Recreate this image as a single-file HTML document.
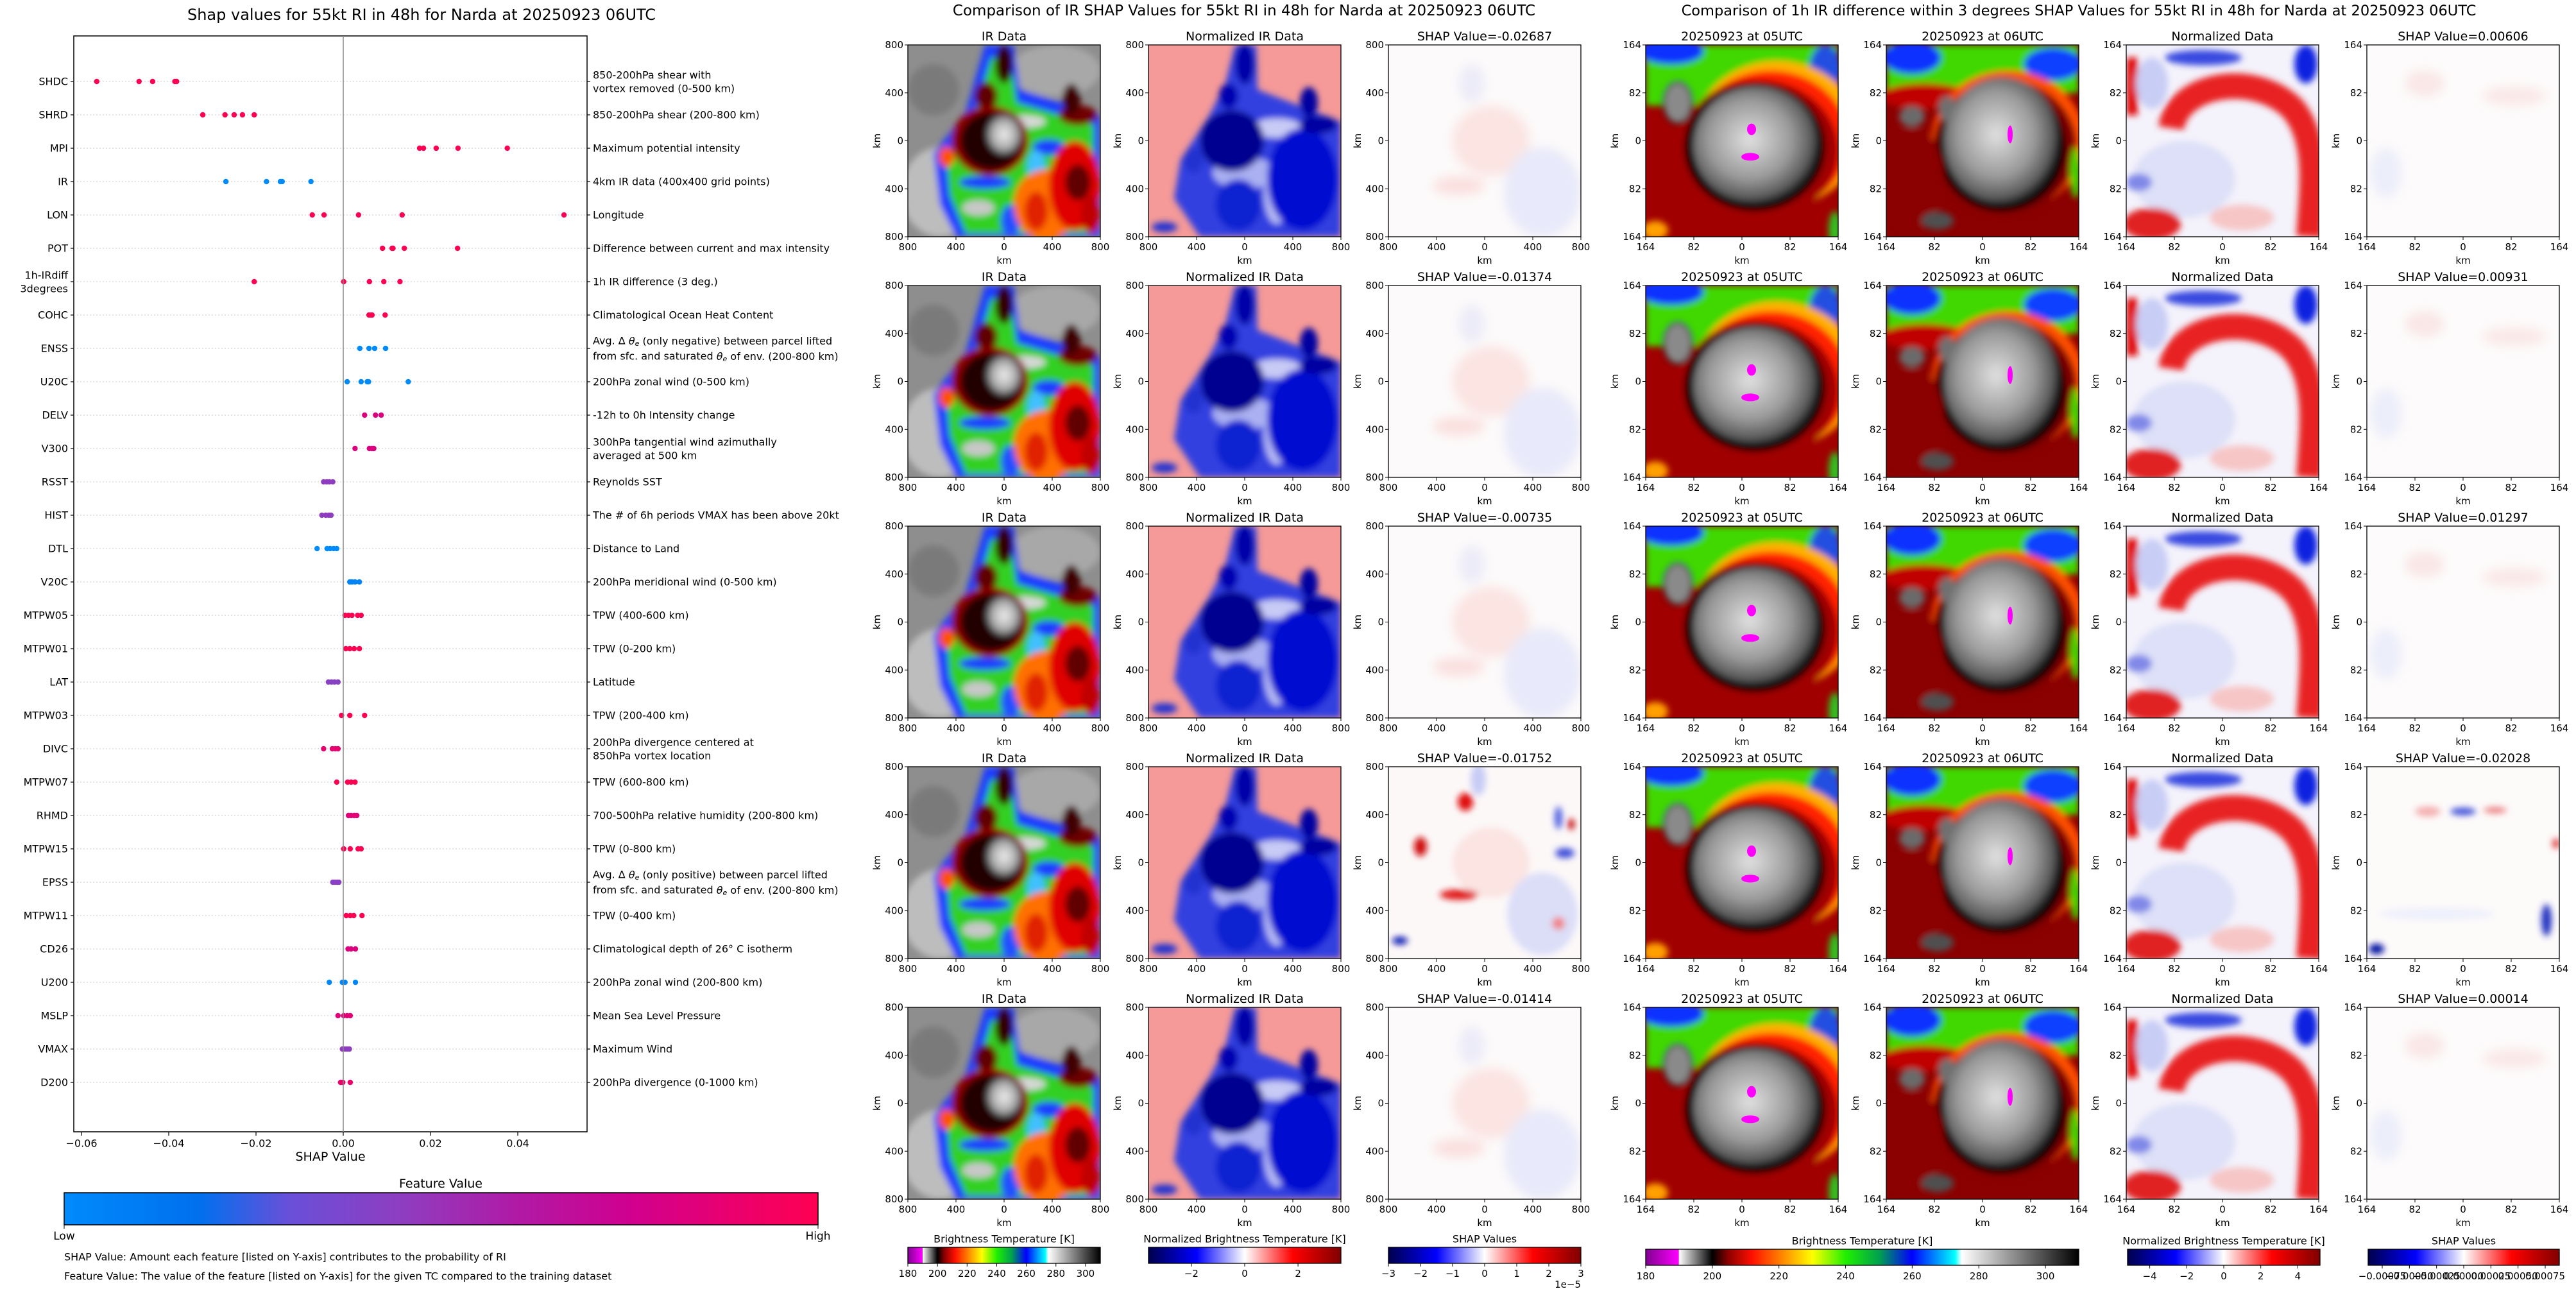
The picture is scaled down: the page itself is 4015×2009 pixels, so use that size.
<!DOCTYPE html>
<html><head><meta charset="utf-8"><title>SHAP values for Narda</title>
<style>
html,body{margin:0;padding:0;background:#fff;}
svg{display:block;font-family:"DejaVu Sans","Liberation Sans",sans-serif;}
text{fill:#000;}
</style></head>
<body>
<svg id="chart" xmlns="http://www.w3.org/2000/svg" width="4015" height="2009" viewBox="0 0 4015 2009">
<defs>
  <filter id="bl" x="-5%" y="-5%" width="110%" height="110%"><feGaussianBlur stdDeviation="5"/></filter>
  <filter id="bl2" x="-10%" y="-10%" width="120%" height="120%"><feGaussianBlur stdDeviation="8"/></filter>
  <linearGradient id="gFeat" x1="0" x2="1" y1="0" y2="0">
    <stop offset="0" stop-color="#008bfb"/><stop offset="0.18" stop-color="#0070ee"/>
    <stop offset="0.3" stop-color="#6a4fd8"/><stop offset="0.45" stop-color="#8f3dc0"/>
    <stop offset="0.6" stop-color="#b01aa5"/><stop offset="0.75" stop-color="#d0008f"/>
    <stop offset="1" stop-color="#ff0052"/>
  </linearGradient>
  <linearGradient id="gBT" x1="0" x2="1" y1="0" y2="0">
    <stop offset="0" stop-color="#800090"/><stop offset="0.076" stop-color="#ff00ff"/>
    <stop offset="0.077" stop-color="#ffffff"/><stop offset="0.154" stop-color="#000000"/>
    <stop offset="0.19" stop-color="#8b0000"/><stop offset="0.246" stop-color="#ff1000"/>
    <stop offset="0.32" stop-color="#ff9000"/><stop offset="0.385" stop-color="#ffff00"/>
    <stop offset="0.462" stop-color="#20f000"/><stop offset="0.54" stop-color="#00a050"/>
    <stop offset="0.615" stop-color="#0000ff"/><stop offset="0.714" stop-color="#00ffff"/>
    <stop offset="0.73" stop-color="#ffffff"/><stop offset="1" stop-color="#000000"/>
  </linearGradient>
  <linearGradient id="gSeis" x1="0" x2="1" y1="0" y2="0">
    <stop offset="0" stop-color="#00004c"/><stop offset="0.25" stop-color="#0000ff"/>
    <stop offset="0.5" stop-color="#ffffff"/><stop offset="0.75" stop-color="#ff0000"/>
    <stop offset="1" stop-color="#800000"/>
  </linearGradient>
  <radialGradient id="gEye" cx="0.5" cy="0.5" r="0.5">
    <stop offset="0" stop-color="#f0f0f0"/><stop offset="0.7" stop-color="#a8a8a8"/><stop offset="1" stop-color="#505050"/>
  </radialGradient>
  <radialGradient id="gDisc" cx="0.45" cy="0.45" r="0.55">
    <stop offset="0" stop-color="#e0e0e0"/><stop offset="0.6" stop-color="#9a9a9a"/><stop offset="0.9" stop-color="#5a5a5a"/><stop offset="1" stop-color="#202020"/>
  </radialGradient>

  <symbol id="ir" viewBox="0 0 300 300" preserveAspectRatio="none">
    <rect width="300" height="300" fill="#8e8e8e"/>
    <g filter="url(#bl)">
      <ellipse cx="50" cy="230" rx="60" ry="70" fill="#bdbdbd"/>
      <ellipse cx="230" cy="40" rx="70" ry="40" fill="#a8a8a8"/>
      <ellipse cx="40" cy="70" rx="40" ry="40" fill="#7a7a7a"/>
      <path d="M120,0 L165,0 L175,70 L300,110 L300,300 L75,300 L50,250 L40,170 L90,105 Z" fill="#1a3cff"/>
      <path d="M130,20 L160,20 L170,90 L290,125 L290,295 L90,295 L65,235 L60,180 L100,120 Z" fill="#30d020"/>
      <ellipse cx="180" cy="120" rx="35" ry="10" fill="#d8d8d8"/>
      <ellipse cx="220" cy="160" rx="25" ry="12" fill="#1a3cff"/>
      <ellipse cx="200" cy="190" rx="14" ry="25" fill="#40c0ff"/>
      <ellipse cx="120" cy="215" rx="40" ry="10" fill="#1a3cff"/>
      <ellipse cx="110" cy="255" rx="25" ry="12" fill="#c8c8c8"/>
      <ellipse cx="160" cy="275" rx="15" ry="25" fill="#2050ff"/>
      <ellipse cx="215" cy="250" rx="50" ry="55" fill="#ff7000"/>
      <ellipse cx="260" cy="220" rx="40" ry="70" fill="#e00000"/>
      <ellipse cx="265" cy="215" rx="20" ry="28" fill="#600000"/>
      <ellipse cx="285" cy="265" rx="15" ry="30" fill="#c00000"/>
      <ellipse cx="200" cy="260" rx="18" ry="30" fill="#e02000"/>
      <ellipse cx="265" cy="110" rx="30" ry="16" fill="#700000"/>
      <ellipse cx="255" cy="85" rx="14" ry="24" fill="#400000"/>
      <ellipse cx="150" cy="30" rx="14" ry="30" fill="#300000"/>
      <ellipse cx="122" cy="80" rx="18" ry="22" fill="#600000"/>
      <ellipse cx="60" cy="175" rx="12" ry="16" fill="#ff5000"/>
      <ellipse cx="128" cy="150" rx="60" ry="55" fill="#8b0000"/>
      <ellipse cx="130" cy="150" rx="48" ry="45" fill="#200000"/>
      <ellipse cx="150" cy="140" rx="28" ry="32" fill="url(#gEye)"/>
    </g>
  </symbol>

  <symbol id="nrm" viewBox="0 0 300 300" preserveAspectRatio="none">
    <rect width="300" height="300" fill="#f59a98"/>
    <g filter="url(#bl)">
      <path d="M135,0 L168,0 L170,70 L300,120 L300,300 L80,300 L40,240 L50,180 L95,110 L120,60 Z" fill="#3040e0"/>
      <ellipse cx="200" cy="130" rx="40" ry="15" fill="#c8cbf5"/>
      <ellipse cx="150" cy="200" rx="50" ry="25" fill="#aab0f2"/>
      <ellipse cx="200" cy="230" rx="20" ry="50" fill="#b8bcf5"/>
      <ellipse cx="240" cy="210" rx="55" ry="80" fill="#0010d0"/>
      <ellipse cx="140" cy="250" rx="35" ry="40" fill="#1020d0"/>
      <ellipse cx="150" cy="30" rx="15" ry="32" fill="#0000a8"/>
      <ellipse cx="125" cy="80" rx="15" ry="20" fill="#0000b0"/>
      <ellipse cx="250" cy="90" rx="14" ry="24" fill="#0000a0"/>
      <ellipse cx="265" cy="125" rx="30" ry="14" fill="#0000a0"/>
      <ellipse cx="70" cy="180" rx="15" ry="20" fill="#2030d0"/>
      <ellipse cx="25" cy="285" rx="20" ry="8" fill="#2030d0"/>
      <ellipse cx="130" cy="150" rx="50" ry="48" fill="#000090"/>
    </g>
  </symbol>

  <symbol id="shm" viewBox="0 0 300 300" preserveAspectRatio="none">
    <rect width="300" height="300" fill="#fcfafa"/>
    <g filter="url(#bl2)">
      <ellipse cx="160" cy="150" rx="60" ry="55" fill="#fbe4e2"/>
      <ellipse cx="240" cy="230" rx="60" ry="70" fill="#e8e9fa"/>
      <ellipse cx="130" cy="60" rx="20" ry="30" fill="#ecebf8"/>
      <ellipse cx="110" cy="220" rx="40" ry="15" fill="#fae0de"/>
    </g>
  </symbol>
  <symbol id="shm4" viewBox="0 0 300 300" preserveAspectRatio="none">
    <rect width="300" height="300" fill="#fcf8f8"/>
    <g filter="url(#bl)">
      <ellipse cx="160" cy="150" rx="60" ry="55" fill="#fbe4e2"/>
      <ellipse cx="240" cy="230" rx="55" ry="65" fill="#dcdef8"/>
      <ellipse cx="120" cy="55" rx="12" ry="14" fill="#e01010"/>
      <ellipse cx="50" cy="125" rx="10" ry="15" fill="#d01010"/>
      <ellipse cx="110" cy="200" rx="30" ry="8" fill="#e01515"/>
      <ellipse cx="265" cy="80" rx="6" ry="18" fill="#5060e0"/>
      <ellipse cx="285" cy="90" rx="5" ry="9" fill="#c00000"/>
      <ellipse cx="275" cy="135" rx="15" ry="8" fill="#4050d8"/>
      <ellipse cx="265" cy="245" rx="10" ry="10" fill="#f08080"/>
      <ellipse cx="18" cy="272" rx="12" ry="6" fill="#0010b0"/>
      <ellipse cx="140" cy="20" rx="12" ry="25" fill="#c8ccf5"/>
    </g>
  </symbol>

  <symbol id="r05" viewBox="0 0 300 300" preserveAspectRatio="none">
    <rect width="300" height="300" fill="#a00000"/>
    <g filter="url(#bl)">
      <rect x="0" y="0" width="300" height="95" fill="#40d800"/>
      <ellipse cx="40" cy="10" rx="50" ry="20" fill="#1030ff"/>
      <ellipse cx="280" cy="40" rx="25" ry="40" fill="#2050e0"/>
      <ellipse cx="205" cy="140" rx="130" ry="115" fill="#ffb000"/>
      <ellipse cx="195" cy="150" rx="122" ry="110" fill="#ff2000"/>
      <ellipse cx="175" cy="165" rx="125" ry="110" fill="#a00000"/>
      <ellipse cx="170" cy="160" rx="110" ry="100" fill="#100000"/>
      <ellipse cx="50" cy="90" rx="24" ry="34" fill="#101010"/>
      <ellipse cx="50" cy="90" rx="20" ry="30" fill="#8a8a8a"/>
      <ellipse cx="172" cy="157" rx="98" ry="92" fill="url(#gDisc)"/>
      <ellipse cx="15" cy="290" rx="20" ry="15" fill="#ffa000"/>
      <ellipse cx="295" cy="290" rx="10" ry="30" fill="#30c020"/>
    </g>
    <ellipse cx="165" cy="132" rx="7" ry="9" fill="#ff00ff"/>
    <ellipse cx="163" cy="175" rx="14" ry="6" fill="#ff00ff"/>
  </symbol>

  <symbol id="r06" viewBox="0 0 300 300" preserveAspectRatio="none">
    <rect width="300" height="300" fill="#8b0000"/>
    <g filter="url(#bl)">
      <rect x="0" y="0" width="300" height="75" fill="#40d800"/>
      <ellipse cx="40" cy="20" rx="45" ry="25" fill="#1030ff"/>
      <ellipse cx="260" cy="30" rx="45" ry="25" fill="#1040ff"/>
      <ellipse cx="60" cy="80" rx="70" ry="20" fill="#c00000"/>
      <ellipse cx="190" cy="150" rx="120" ry="110" fill="#ff5000"/>
      <ellipse cx="185" cy="160" rx="112" ry="105" fill="#800000"/>
      <ellipse cx="180" cy="160" rx="100" ry="100" fill="#100000"/>
      <ellipse cx="40" cy="210" rx="50" ry="80" fill="#8b0000"/>
      <ellipse cx="40" cy="112" rx="20" ry="16" fill="#6a6a6a"/>
      <ellipse cx="95" cy="100" rx="14" ry="20" fill="#707070"/>
      <ellipse cx="80" cy="275" rx="25" ry="14" fill="#505050"/>
      <ellipse cx="180" cy="150" rx="90" ry="100" fill="url(#gDisc)"/>
      <ellipse cx="295" cy="200" rx="8" ry="40" fill="#40d800"/>
    </g>
    <ellipse cx="193" cy="140" rx="4" ry="14" fill="#ff00ff"/>
  </symbol>

  <symbol id="rn" viewBox="0 0 300 300" preserveAspectRatio="none">
    <rect width="300" height="300" fill="#f4f2fb"/>
    <g filter="url(#bl)">
      <ellipse cx="90" cy="210" rx="80" ry="60" fill="#dde0f8"/>
      <path d="M70,130 C80,60 200,40 260,100 C300,150 290,220 285,300" stroke="#e82020" stroke-width="40" fill="none"/>
      <rect x="0" y="20" width="18" height="90" fill="#e01010"/>
      <ellipse cx="120" cy="20" rx="60" ry="12" fill="#3848e0"/>
      <ellipse cx="280" cy="30" rx="18" ry="30" fill="#1020e0"/>
      <ellipse cx="40" cy="280" rx="45" ry="25" fill="#e02020"/>
      <ellipse cx="20" cy="215" rx="20" ry="14" fill="#8088e8"/>
      <ellipse cx="180" cy="270" rx="50" ry="20" fill="#f6c6c6"/>
      <ellipse cx="40" cy="60" rx="25" ry="40" fill="#c8cdf5"/>
    </g>
  </symbol>

  <symbol id="rs" viewBox="0 0 300 300" preserveAspectRatio="none">
    <rect width="300" height="300" fill="#fdfbfb"/>
    <g filter="url(#bl2)">
      <ellipse cx="90" cy="60" rx="30" ry="20" fill="#f9e6e6"/>
      <ellipse cx="30" cy="200" rx="25" ry="40" fill="#eceefa"/>
      <ellipse cx="230" cy="80" rx="50" ry="15" fill="#fae8e8"/>
    </g>
  </symbol>
  <symbol id="rs4" viewBox="0 0 300 300" preserveAspectRatio="none">
    <rect width="300" height="300" fill="#fdfafa"/>
    <g filter="url(#bl)">
      <ellipse cx="150" cy="70" rx="20" ry="6" fill="#4050d8"/>
      <ellipse cx="95" cy="70" rx="20" ry="8" fill="#f4b0b0"/>
      <ellipse cx="200" cy="68" rx="18" ry="5" fill="#ec8080"/>
      <ellipse cx="280" cy="240" rx="8" ry="25" fill="#2030c0"/>
      <ellipse cx="15" cy="285" rx="12" ry="8" fill="#0010a0"/>
      <ellipse cx="295" cy="120" rx="6" ry="8" fill="#e04040"/>
      <ellipse cx="110" cy="230" rx="90" ry="10" fill="#eef0fb"/>
    </g>
  </symbol>
</defs>
<g id="root"></g>
</svg>
<script>
// ================= SHAP beeswarm data =================
const features = ["SHDC","SHRD","MPI","IR","LON","POT","1h-IRdiff|3degrees","COHC","ENSS","U20C","DELV","V300","RSST","HIST","DTL","V20C","MTPW05","MTPW01","LAT","MTPW03","DIVC","MTPW07","RHMD","MTPW15","EPSS","MTPW11","CD26","U200","MSLP","VMAX","D200"];
const descriptions = ["850-200hPa shear with|vortex removed (0-500 km)","850-200hPa shear (200-800 km)","Maximum potential intensity","4km IR data (400x400 grid points)","Longitude","Difference between current and max intensity","1h IR difference (3 deg.)","Climatological Ocean Heat Content","ENSS_DESC","200hPa zonal wind (0-500 km)","-12h to 0h Intensity change","300hPa tangential wind azimuthally|averaged at 500 km","Reynolds SST","The # of 6h periods VMAX has been above 20kt","Distance to Land","200hPa meridional wind (0-500 km)","TPW (400-600 km)","TPW (0-200 km)","Latitude","TPW (200-400 km)","200hPa divergence centered at|850hPa vortex location","TPW (600-800 km)","700-500hPa relative humidity (200-800 km)","TPW (0-800 km)","EPSS_DESC","TPW (0-400 km)","CD26_DESC","200hPa zonal wind (200-800 km)","Mean Sea Level Pressure","Maximum Wind","200hPa divergence (0-1000 km)"];
const shapValues = [
 [-0.0565,-0.0468,-0.0437,-0.0386,-0.0382],
 [-0.0322,-0.0271,-0.025,-0.0231,-0.0204],
 [0.0175,0.0184,0.0213,0.0263,0.0376],
 [-0.0269,-0.0176,-0.0144,-0.014,-0.0074],
 [-0.0071,-0.0044,0.0035,0.0135,0.0506],
 [0.009,0.0112,0.0114,0.014,0.0262],
 [-0.0204,0.0001,0.006,0.0093,0.013],
 [0.0059,0.0063,0.0066,0.0096],
 [0.0038,0.0059,0.0072,0.0097],
 [0.0009,0.0041,0.0055,0.0058,0.0149],
 [0.0049,0.0074,0.0087],
 [0.0027,0.006,0.0066,0.007],
 [-0.0045,-0.0038,-0.0032,-0.0024],
 [-0.0049,-0.004,-0.0033,-0.0028],
 [-0.006,-0.0037,-0.003,-0.0022,-0.0015],
 [0.0015,0.002,0.0027,0.0037],
 [0.0004,0.0012,0.002,0.0033,0.0041],
 [0.0006,0.0015,0.0025,0.0037],
 [-0.0034,-0.0027,-0.002,-0.0012],
 [-0.0004,0.0015,0.0049],
 [-0.0045,-0.0025,-0.0018,-0.0012],
 [-0.0015,0.001,0.0018,0.0027],
 [0.0012,0.0018,0.0025,0.0031],
 [0.0001,0.0016,0.0034,0.0041],
 [-0.0024,-0.0019,-0.0014,-0.001],
 [0.0007,0.0016,0.0024,0.0043],
 [0.0011,0.0018,0.0028],
 [-0.0032,-0.0002,0.0004,0.0028],
 [-0.0012,0.0001,0.0009,0.0016],
 [-0.0002,0.0004,0.0009,0.0014],
 [-0.0006,-0.0001,0.0016]
];
const featureLevels = [1,1,1,0,1,1,1,1,0,0,0.82,0.82,0.45,0.45,0,0.05,1,1,0.42,1,0.88,1,0.85,1,0.42,1,0.82,0.02,0.85,0.45,0.9];
const xTicks = [-0.06,-0.04,-0.02,0.00,0.02,0.04];
const xTickLabels = ["\u22120.06","\u22120.04","\u22120.02","0.00","0.02","0.04"];

// ================= image panel data =================
const midTitles = ["IR Data","Normalized IR Data"];
const midShapValues = ["-0.02687","-0.01374","-0.00735","-0.01752","-0.01414"];
const rightTitles = ["20250923 at 05UTC","20250923 at 06UTC","Normalized Data"];
const rightShapValues = ["0.00606","0.00931","0.01297","-0.02028","0.00014"];
const midAxisLabels = ["800","400","0","400","800"];
const rightAxisLabels = ["164","82","0","82","164"];
const btTicks = [180,200,220,240,260,280,300];
const midNormTicks = [-2,0,2];
const rightNormTicks = [-4,-2,0,2,4];
const midShapTicks = [-3,-2,-1,0,1,2,3];
const rightShapTicks = [-0.00075,-0.0005,-0.00025,0,0.00025,0.0005,0.00075];
const rightShapTickLabels = ["\u22120.00075","\u22120.00050","\u22120.00025","0.00000","0.00025","0.00050","0.00075"];

const NS = "http://www.w3.org/2000/svg";
const root = document.getElementById('root');
function mk(tag, attrs, parent){
  const e = document.createElementNS(NS, tag);
  for (const k in attrs) e.setAttribute(k, attrs[k]);
  (parent||root).appendChild(e);
  return e;
}
function txt(x,y,s,size,anchor,parent,extra){
  const a = {x:x,y:y,'font-size':size,'text-anchor':anchor||'start','dominant-baseline':'central'};
  if (extra) for (const k in extra) a[k]=extra[k];
  const t = mk('text',a,parent);
  t.textContent = s;
  return t;
}
function lerpColor(c1,c2,t){
  const a=parseInt(c1.slice(1),16), b=parseInt(c2.slice(1),16);
  const r=Math.round(((a>>16)&255)*(1-t)+((b>>16)&255)*t);
  const g=Math.round(((a>>8)&255)*(1-t)+((b>>8)&255)*t);
  const bl=Math.round((a&255)*(1-t)+(b&255)*t);
  return 'rgb('+r+','+g+','+bl+')';
}
const featStops=[[0,'#008bfb'],[0.18,'#0070ee'],[0.3,'#6a4fd8'],[0.45,'#8f3dc0'],[0.6,'#b01aa5'],[0.75,'#d0008f'],[1,'#ff0052']];
function featColor(v){
  for(let i=1;i<featStops.length;i++){
    if(v<=featStops[i][0]){const a=featStops[i-1],b=featStops[i];return lerpColor(a[1],b[1],(v-a[0])/(b[0]-a[0]));}
  }
  return '#ff0052';
}

// ================= Left SHAP chart =================
const AX_L=115, AX_R=915, AX_T=56, AX_B=1764;
const X0=535, XS=6800;
const xScale = v => X0 + v*XS;
const yScale = i => 127 + i*52;

const shapG = mk('g',{});



const lt = txt(657,23,"Shap values for 55kt RI in 48h for Narda at 20250923 06UTC",24,'middle',shapG);



const frame = mk('rect',{x:AX_L,y:AX_T,width:AX_R-AX_L,height:AX_B-AX_T,fill:'none',stroke:'#000','stroke-width':1.5},shapG);



features.forEach((f,i)=>{
  const y=yScale(i);
  const row = mk('g',{},shapG);
  
  
  mk('line',{x1:AX_L,x2:AX_R,y1:y,y2:y,stroke:'#c8c8c8','stroke-width':1,'stroke-dasharray':'2,3'},row);
  mk('line',{x1:AX_L-5,x2:AX_L,y1:y,y2:y,stroke:'#000','stroke-width':1.2},row);
  mk('line',{x1:AX_R,x2:AX_R+5,y1:y,y2:y,stroke:'#000','stroke-width':1.2},row);
  const parts=f.split('|');
  if(parts.length===1){
    const t=txt(AX_L-9,y,f,16,'end',row);
    
    
  } else {
    const t1=txt(AX_L-9,y-10,parts[0],16,'end',row);
    
    
    const t2=txt(AX_L-9,y+11,parts[1],16,'end',row);
    
    
  }
  const d=descriptions[i];
  let dg;
  if(d==='ENSS_DESC'||d==='EPSS_DESC'){
    const word = d==='ENSS_DESC'?'negative':'positive';
    dg=mk('text',{x:AX_R+9,y:y-12,'font-size':16,'dominant-baseline':'central'},row);
    dg.innerHTML='Avg. \u0394 <tspan font-style="italic">\u03b8</tspan><tspan font-style="italic" font-size="11" dy="4">e</tspan><tspan dy="-4"> (only '+word+') between parcel lifted</tspan>';
    const d2=mk('text',{x:AX_R+9,y:y+12,'font-size':16,'dominant-baseline':'central'},row);
    d2.innerHTML='from sfc. and saturated <tspan font-style="italic">\u03b8</tspan><tspan font-style="italic" font-size="11" dy="4">e</tspan><tspan dy="-4"> of env. (200-800 km)</tspan>';
    
    
  } else if(d==='CD26_DESC'){
    dg=txt(AX_R+9,y,"Climatological depth of 26\u00b0 C isotherm",16,'start',row);
  } else {
    const p=d.split('|');
    if(p.length===1) dg=txt(AX_R+9,y,d,16,'start',row);
    else {
      dg=txt(AX_R+9,y-10,p[0],16,'start',row);
      const d2=txt(AX_R+9,y+11,p[1],16,'start',row);
      
      
    }
  }
  
  
  shapValues[i].forEach(v=>{
    const c=mk('circle',{cx:xScale(v),cy:y,r:4.2,fill:featColor(featureLevels[i])},row);
    
    
  });
});
const zl = mk('line',{x1:xScale(0),x2:xScale(0),y1:AX_T,y2:AX_B,stroke:'#888','stroke-width':1.5},shapG);



const xAxisG = mk('g',{},shapG);


xTicks.forEach((v,i)=>{
  const x=xScale(v);
  mk('line',{x1:x,x2:x,y1:AX_B,y2:AX_B+6,stroke:'#000','stroke-width':1.2},xAxisG);
  const t=txt(x,AX_B+18,xTickLabels[i],16,'middle',xAxisG);
  
  
});
const xt = txt(515,1803,"SHAP Value",19,'middle',shapG);



const fvt = txt(687,1845,"Feature Value",19,'middle',shapG);


const fcb = mk('rect',{x:100,y:1859,width:1175,height:50,fill:'url(#gFeat)',stroke:'#000','stroke-width':1.5},shapG);


mk('line',{x1:100,x2:100,y1:1909,y2:1915,stroke:'#000'},shapG);
mk('line',{x1:1275,x2:1275,y1:1909,y2:1915,stroke:'#000'},shapG);
const lo=txt(100,1927,"Low",17,'middle',shapG);


const hi=txt(1275,1927,"High",17,'middle',shapG);


const n1=txt(100,1959,"SHAP Value: Amount each feature [listed on Y-axis] contributes to the probability of RI",16,'start',shapG);


const n2=txt(100,1989,"Feature Value: The value of the feature [listed on Y-axis] for the given TC compared to the training dataset",16,'start',shapG);



// ================= Image panels =================
const ROWS=[70,445,820,1195,1570], PH=299, PW=300;
const MIDX=[1415,1790,2164], RIGHTX=[2565,2940,3314,3689];

function panel(x,y,sym,title,axLabels,name){
  const g=mk('g',{});
  
  
  mk('use',{href:'#'+sym,x:x,y:y,width:PW,height:PH},g);
  mk('rect',{x:x,y:y,width:PW,height:PH,fill:'none',stroke:'#000','stroke-width':1.3},g);
  const t=txt(x+PW/2,y-13,title,19,'middle',g);
  
  
  axLabels.forEach((l,i)=>{
    const f=i/(axLabels.length-1);
    const yy=y+f*PH, xx=x+f*PW;
    mk('line',{x1:x-5,x2:x,y1:yy,y2:yy,stroke:'#000'},g);
    const ty=txt(x-7,yy,l,15,'end',g);
    
    
    mk('line',{x1:xx,x2:xx,y1:y+PH,y2:y+PH+5,stroke:'#000'},g);
    const tx=txt(xx,y+PH+16,l,15,'middle',g);
    
    
  });
  const xl=txt(x+PW/2,y+PH+37,"km",15,'middle',g);
  
  
  const yl=txt(0,0,"km",15,'middle',g,{transform:'translate('+(x-48)+','+(y+PH/2)+') rotate(-90)'});
  
  
}

const mt=txt(1939,17,"Comparison of IR SHAP Values for 55kt RI in 48h for Narda at 20250923 06UTC",23,'middle');


const rt=txt(3240,17,"Comparison of 1h IR difference within 3 degrees SHAP Values for 55kt RI in 48h for Narda at 20250923 06UTC",22.5,'middle');



ROWS.forEach((y,r)=>{
  panel(MIDX[0],y,'ir',midTitles[0],midAxisLabels,'ir-data-panel-'+(r+1));
  panel(MIDX[1],y,'nrm',midTitles[1],midAxisLabels,'normalized-ir-panel-'+(r+1));
  panel(MIDX[2],y,r===3?'shm4':'shm','SHAP Value='+midShapValues[r],midAxisLabels,'ir-shap-panel-'+(r+1));
  panel(RIGHTX[0],y,'r05',rightTitles[0],rightAxisLabels,'ir-05utc-panel-'+(r+1));
  panel(RIGHTX[1],y,'r06',rightTitles[1],rightAxisLabels,'ir-06utc-panel-'+(r+1));
  panel(RIGHTX[2],y,'rn',rightTitles[2],rightAxisLabels,'normalized-diff-panel-'+(r+1));
  panel(RIGHTX[3],y,r===3?'rs4':'rs','SHAP Value='+rightShapValues[r],rightAxisLabels,'diff-shap-panel-'+(r+1));
});

// ================= Colorbars =================
function colorbar(x,w,y,h,grad,title,ticks,labels,vmin,vmax,titleY,tickY,name){
  const g=mk('g',{});
  
  
  const t=txt(x+w/2,titleY,title,16,'middle',g);
  
  
  mk('rect',{x:x,y:y,width:w,height:h,fill:'url(#'+grad+')',stroke:'#000','stroke-width':1.3},g);
  ticks.forEach((v,i)=>{
    const xx=x+(v-vmin)/(vmax-vmin)*w;
    mk('line',{x1:xx,x2:xx,y1:y+h,y2:y+h+5,stroke:'#000'},g);
    const tl=txt(xx,tickY,labels[i],15,'middle',g);
    
    
  });
}
const fmt = v => (v<0?'\u2212':'')+Math.abs(v);
colorbar(MIDX[0],PW,1944,25,'gBT','Brightness Temperature [K]',btTicks,btTicks.map(String),180,310,1931,1985,'mid-bt-colorbar');
colorbar(MIDX[1],PW,1944,25,'gSeis','Normalized Brightness Temperature [K]',midNormTicks,midNormTicks.map(fmt),-3.61,3.61,1931,1985,'mid-norm-colorbar');
colorbar(MIDX[2],PW,1944,25,'gSeis','SHAP Values',midShapTicks,midShapTicks.map(fmt),-3,3,1931,1985,'mid-shap-colorbar');
const off=txt(MIDX[2]+PW,2002,"1e\u22125",15,'end');


colorbar(2565,675,1947,25,'gBT','Brightness Temperature [K]',btTicks,btTicks.map(String),180,310,1934,1989,'right-bt-colorbar');
colorbar(3316,300,1947,25,'gSeis','Normalized Brightness Temperature [K]',rightNormTicks,rightNormTicks.map(fmt),-5.2,5.2,1934,1989,'right-norm-colorbar');
colorbar(3691,298,1947,25,'gSeis','SHAP Values',rightShapTicks,rightShapTickLabels,-0.00088,0.00088,1934,1989,'right-shap-colorbar');
</script>
</body></html>
